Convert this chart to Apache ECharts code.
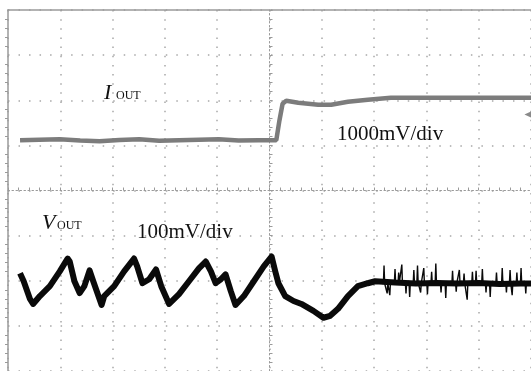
<!DOCTYPE html>
<html><head><meta charset="utf-8">
<script src="https://cdn.jsdelivr.net/npm/echarts@6/dist/echarts.min.js"></script>
<style>html,body{margin:0;padding:0;background:#fff;}#c{width:531px;height:371px;}</style>
</head><body><div id="c"></div>
<script>
// time axis in divisions (centre = 0), vertical in divisions (centre = 0)
const iOutTime = [-4.77,-4.40,-4.01,-3.62,-3.25,-2.87,-2.49,-2.11,-1.73,-1.35,-0.97,-0.59,-0.21,0.13,0.19,0.25,0.32,0.55,0.93,1.18,1.50,1.88,2.32,2.97,3.59,4.22,5.02];
const iOutVal  = [1.115,1.126,1.137,1.110,1.093,1.120,1.137,1.104,1.115,1.126,1.137,1.110,1.115,1.115,1.552,1.923,1.989,1.945,1.902,1.902,1.967,2.011,2.055,2.055,2.055,2.055,2.055];
const vOutTime = [-4.77,-4.70,-4.58,-4.52,-4.39,-4.20,-4.01,-3.86,-3.82,-3.73,-3.63,-3.54,-3.44,-3.37,-3.21,-3.16,-2.97,-2.78,-2.59,-2.53,-2.43,-2.30,-2.17,-2.07,-1.92,-1.73,-1.54,-1.35,-1.22,-1.12,-1.03,-0.93,-0.84,-0.74,-0.65,-0.49,-0.30,-0.11,0.04,0.11,0.17,0.30,0.46,0.61,0.84,1.03,1.16,1.31,1.50,1.69,1.88,2.02,2.40,2.80,3.20,3.60,4.00,4.40,4.80,5.02];
const vOutVal  = [-1.836,-2.011,-2.404,-2.514,-2.339,-2.120,-1.792,-1.508,-1.574,-2.011,-2.273,-2.120,-1.770,-2.011,-2.536,-2.339,-2.120,-1.792,-1.508,-1.683,-2.055,-1.967,-1.749,-2.120,-2.514,-2.295,-2.011,-1.727,-1.574,-1.792,-2.055,-1.967,-1.858,-2.230,-2.536,-2.339,-2.011,-1.683,-1.464,-1.792,-2.055,-2.339,-2.448,-2.514,-2.667,-2.820,-2.776,-2.623,-2.339,-2.120,-2.055,-2.011,-2.04,-2.06,-2.05,-2.06,-2.05,-2.07,-2.06,-2.06];
// thin noise spikes riding on the settled V_OUT trace
const vSpikeTime = [2.10,2.178,2.19,2.202,2.238,2.25,2.262,2.288,2.30,2.312,2.388,2.40,2.412,2.458,2.47,2.482,2.518,2.53,2.542,2.598,2.61,2.622,2.668,2.68,2.692,2.748,2.76,2.772,2.818,2.83,2.842,2.878,2.89,2.902,2.938,2.95,2.962,3.008,3.02,3.032,3.088,3.10,3.112,3.168,3.18,3.192,3.268,3.28,3.292,3.358,3.37,3.382,3.488,3.50,3.512,3.558,3.57,3.582,3.618,3.63,3.642,3.708,3.72,3.732,3.768,3.78,3.792,3.868,3.88,3.892,3.938,3.95,3.962,4.058,4.07,4.082,4.128,4.14,4.152,4.208,4.22,4.232,4.328,4.34,4.352,4.438,4.45,4.462,4.518,4.53,4.542,4.588,4.60,4.612,4.628,4.64,4.652,4.718,4.73,4.742,4.798,4.81,4.822,4.888,4.90,4.912,5.02];
const vSpikeVal  = [-2.05,-2.06,-1.66,-2.06,-2.05,-2.28,-2.05,-2.05,-2.32,-2.05,-2.04,-1.74,-2.04,-2.05,-1.82,-2.05,-2.06,-1.64,-2.06,-2.05,-2.28,-2.05,-2.05,-2.36,-2.05,-2.05,-1.76,-2.05,-2.04,-1.66,-2.04,-2.05,-2.26,-2.05,-2.06,-1.72,-2.06,-2.05,-2.30,-2.05,-2.05,-1.80,-2.05,-2.04,-1.62,-2.04,-2.05,-2.26,-2.05,-2.06,-2.38,-2.06,-2.05,-1.78,-2.05,-2.05,-2.24,-2.05,-2.04,-1.76,-2.04,-2.05,-1.84,-2.05,-2.06,-2.42,-2.06,-2.05,-1.80,-2.05,-2.05,-1.78,-2.05,-2.04,-1.74,-2.04,-2.05,-2.26,-2.05,-2.06,-2.36,-2.06,-2.05,-1.82,-2.05,-2.05,-1.72,-2.05,-2.05,-2.26,-2.05,-2.04,-1.76,-2.04,-2.05,-2.32,-2.05,-2.05,-1.82,-2.05,-2.06,-1.72,-2.06,-2.05,-2.28,-2.05,-2.05];
const iMarker = [4.96, 1.683];
const labels = { iOut: 'I', vOut: 'V', sub: 'OUT', iScale: '1000mV/div', vScale: '100mV/div' };

const chart = echarts.init(document.getElementById('c'), null, {renderer:'canvas'});
const grey = '#9a9a9a';
const serif = '"Liberation Serif","Times New Roman",serif';
chart.setOption({
  animation:false,
  backgroundColor:'#fff',
  grid:{left:8, top:10, width:526, height:366, containLabel:false},
  xAxis:[
    {type:'value', min:-5, max:5, interval:1,
     axisLine:{show:true, onZero:true, onZeroAxisIndex:0, lineStyle:{color:grey, width:1, type:[1.5,2.5]}},
     axisTick:{show:true, inside:true, length:3, lineStyle:{color:grey}},
     minorTick:{show:true, splitNumber:5, length:3, lineStyle:{color:grey}},
     axisLabel:{show:false},
     splitLine:{show:true, lineStyle:{color:'#a8a8a8', width:1.5, type:[1.5,7.65]}}},
    {type:'value', min:-5, max:5, interval:1, position:'top',
     axisLine:{show:true, onZero:false, lineStyle:{color:grey, width:1.5}},
     axisTick:{show:false}, minorTick:{show:false}, axisLabel:{show:false}, splitLine:{show:false}}
  ],
  yAxis:[
    {type:'value', min:-4, max:4, interval:1,
     axisLine:{show:true, onZero:true, onZeroAxisIndex:0, lineStyle:{color:grey, width:1, type:[1.5,2.5]}},
     axisTick:{show:true, inside:true, length:3, lineStyle:{color:grey}},
     minorTick:{show:true, splitNumber:5, length:3, lineStyle:{color:grey}},
     axisLabel:{show:false},
     splitLine:{show:true, lineStyle:{color:'#a8a8a8', width:1.5, type:[1.5,9.02]}}},
    {type:'value', min:-4, max:4, interval:1, position:'left',
     axisLine:{show:true, onZero:false, lineStyle:{color:grey, width:1.5}},
     axisTick:{show:false},
     minorTick:{show:true, splitNumber:5, length:3, lineStyle:{color:grey}},
     axisLabel:{show:false}, splitLine:{show:false}}
  ],
  series:[
    {type:'line', xAxisIndex:0, yAxisIndex:0, showSymbol:false, silent:true,
     data: iOutTime.map((t,k)=>[t,iOutVal[k]]),
     lineStyle:{color:'#7c7c7c', width:4.5}, z:3,
     markPoint:{silent:true, symbol:'triangle', symbolRotate:90, symbolSize:[8,9],
       itemStyle:{color:'#8a8a8a'}, label:{show:false},
       data:[{coord:iMarker}]}},
    {type:'line', xAxisIndex:0, yAxisIndex:0, showSymbol:false, silent:true,
     data: vOutTime.map((t,k)=>[t,vOutVal[k]]),
     lineStyle:{color:'#0a0a0a', width:6, join:'round'}, z:4},
    {type:'line', xAxisIndex:0, yAxisIndex:0, showSymbol:false, silent:true,
     data: vSpikeTime.map((t,k)=>[t,vSpikeVal[k]]),
     lineStyle:{color:'#0a0a0a', width:1.4, join:'bevel'}, z:5}
  ],
  graphic:[
    {type:'text', left:104, top:82, style:{text:labels.iOut, font:'italic 22px '+serif, fill:'#111'}},
    {type:'text', left:116, top:90, style:{text:labels.sub, font:'12px '+serif, fill:'#111'}},
    {type:'text', left:42, top:212, style:{text:labels.vOut, font:'italic 22px '+serif, fill:'#111'}},
    {type:'text', left:57, top:220, style:{text:labels.sub, font:'12px '+serif, fill:'#111'}},
    {type:'text', left:337, top:124, style:{text:labels.iScale, font:'21px '+serif, fill:'#111'}},
    {type:'text', left:137, top:222, style:{text:labels.vScale, font:'21px '+serif, fill:'#111'}}
  ]
});
</script></body></html>
